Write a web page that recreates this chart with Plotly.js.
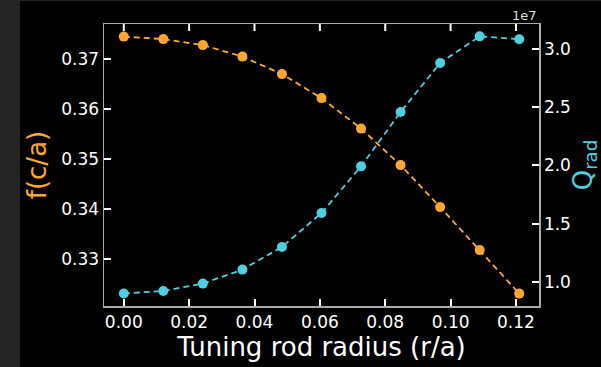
<!DOCTYPE html>
<html>
<head>
<meta charset="utf-8">
<script src="https://cdn.plot.ly/plotly-3.0.1.min.js"></script>
<style>
html,body{margin:0;padding:0;background:#242424;width:601px;height:367px;overflow:hidden;}
#chart{position:absolute;left:20px;top:1px;width:581px;height:366px;background:#000;}
</style>
</head>
<body>
<div id="chart"></div>
<script>
// Data
const radius = [0.0, 0.0121, 0.0242, 0.0363, 0.0484, 0.0605, 0.0726, 0.0847, 0.0968, 0.1089, 0.121];
const freq = [0.3744, 0.3739, 0.3727, 0.3704, 0.3669, 0.3621, 0.3560, 0.3487, 0.3403, 0.3317, 0.3230];
const qrad = [0.901, 0.923, 0.986, 1.106, 1.300, 1.591, 1.991, 2.457, 2.877, 3.105, 3.080]; // x 1e7
const xTicks = [0.00, 0.02, 0.04, 0.06, 0.08, 0.10, 0.12];
const fTicks = [0.33, 0.34, 0.35, 0.36, 0.37];
const qTicks = [1.0, 1.5, 2.0, 2.5, 3.0];

const orange = '#ffa733';
const cyan = '#4fcfe0';
const font = 'DejaVu Sans, sans-serif';
const xRange = [-0.00605, 0.12705];
const fRange = [0.32052, 0.37692];
const plotH = 366 - 23 - 61;

const traces = [
  {x: radius, y: freq, type: 'scatter', mode: 'lines+markers', yaxis: 'y',
   line: {color: orange, dash: '6px,4px', width: 1.8},
   marker: {color: orange, size: 10}, cliponaxis: false},
  {x: radius, y: qrad, type: 'scatter', mode: 'lines+markers', yaxis: 'y2',
   line: {color: cyan, dash: '6px,4px', width: 1.8},
   marker: {color: cyan, size: 10}, cliponaxis: false}
];

const tickStyle = {ticks: 'inside', ticklen: 7, tickwidth: 2, tickcolor: '#fff'};

// mirrored inward ticks on the top edge, at the x tick values
const tickLenData = 7 / plotH * (fRange[1] - fRange[0]);
const topTicks = xTicks.map(t => ({
  type: 'line', xref: 'x', yref: 'y', x0: t, x1: t,
  y0: fRange[1], y1: fRange[1] - tickLenData,
  line: {color: '#ffffff', width: 2}, layer: 'above'
}));

const layout = {
  width: 581, height: 366,
  margin: {l: 84, r: 62, t: 23, b: 61},
  paper_bgcolor: '#000', plot_bgcolor: 'rgba(0,0,0,0)',
  showlegend: false,
  font: {family: font, color: '#fff', size: 17},
  xaxis: Object.assign({
    range: xRange, tickvals: xTicks, tickformat: '.2f',
    showgrid: false, zeroline: false,
    showline: true, linecolor: '#aaaaaa', linewidth: 1.5, mirror: true,
    tickfont: {size: 17, color: '#fff', family: font},
    title: {text: 'Tuning rod radius (r/a)', font: {size: 26, color: '#fff', family: font}, standoff: 3}
  }, tickStyle),
  yaxis: Object.assign({
    range: fRange, tickvals: fTicks, tickformat: '.2f',
    showgrid: false, zeroline: false,
    showline: true, linecolor: '#aaaaaa', linewidth: 1.5, mirror: false,
    tickfont: {size: 17, color: '#fff', family: font},
    title: {text: 'f(c/a)', font: {size: 26, color: orange, family: font}, standoff: 7}
  }, tickStyle),
  yaxis2: Object.assign({
    overlaying: 'y', side: 'right',
    range: [0.794, 3.211], tickvals: qTicks, tickformat: '.1f',
    showgrid: false, zeroline: false,
    showline: true, linecolor: '#aaaaaa', linewidth: 1.5,
    tickfont: {size: 17, color: '#fff', family: font},
    title: {text: 'Q<sub>rad</sub>', font: {size: 26, color: cyan, family: font}, standoff: 12}
  }, tickStyle),
  shapes: topTicks,
  annotations: [
    {text: '1e7', xref: 'paper', yref: 'paper', x: 1.0, y: 1.0, xanchor: 'right', yanchor: 'bottom',
     showarrow: false, font: {size: 13, color: '#dddddd', family: font}, yshift: -1}
  ]
};

Plotly.newPlot('chart', traces, layout, {displayModeBar: false, staticPlot: true});
</script>
</body>
</html>
